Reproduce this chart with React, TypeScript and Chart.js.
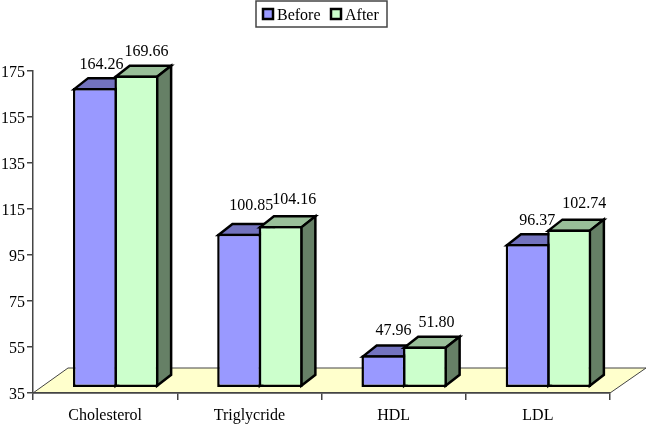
import React, { useEffect, useRef } from "react";
import { Chart, registerables } from "chart.js";

Chart.register(...registerables);

const categories = ["Cholesterol", "Triglycride", "HDL", "LDL"];
const beforeValues = [164.26, 100.85, 47.96, 96.37];
const afterValues = [169.66, 104.16, 51.8, 102.74];
const seriesNames = ["Before", "After"];

const FONT = '"Liberation Serif", serif';
const frontColors = ["#9999FF", "#CCFFCC"];
const topColors = ["#7373BF", "#99BF99"];
const sideColors = ["#4D4D80", "#668066"];

const DEPTH_X = 14;
const DEPTH_Y = 11;
const LIFT = 3.4; // value-units the bars float above the axis floor
const BAR_BASE = 34.2;
const SHIFT = 0.073; // category-units the bars are moved right
const EDGE = 2.5;

// label nudges relative to the bar top, per series then per category
const labelNudges = [
  [[6.7, -23], [12, -28], [10, -24.7], [9.7, -23]],
  [[10, -23.5], [13.7, -26.5], [11.5, -24], [15, -26]],
];

function poly(ctx: CanvasRenderingContext2D, pts: number[][], fill: string, stroke: string, lw: number) {
  ctx.beginPath();
  pts.forEach((p, i) => (i ? ctx.lineTo(p[0], p[1]) : ctx.moveTo(p[0], p[1])));
  ctx.closePath();
  ctx.fillStyle = fill;
  ctx.fill();
  ctx.lineWidth = lw;
  ctx.strokeStyle = stroke;
  ctx.lineJoin = "miter";
  ctx.stroke();
}

const floorPlugin = {
  id: "floor",
  beforeDraw(chart: any) {
    const { ctx, chartArea: a } = chart;
    ctx.save();
    poly(
      ctx,
      [
        [a.left, a.bottom],
        [a.right, a.bottom],
        [a.right + 36, a.bottom - 25],
        [a.left + 35, a.bottom - 25],
      ],
      "#FFFFCC",
      "#444444",
      1
    );
    ctx.restore();
  },
};

const depthPlugin = {
  id: "depth",
  beforeDatasetsDraw(chart: any) {
    const { ctx } = chart;
    ctx.save();
    chart.data.datasets.forEach((_: any, d: number) => {
      chart.getDatasetMeta(d).data.forEach((bar: any) => {
        const l = bar.x - bar.width / 2 + EDGE / 2;
        const r = bar.x + bar.width / 2 - EDGE / 2;
        const t = bar.y + EDGE / 2;
        const b = bar.base - EDGE / 2;
        poly(ctx, [[l, t], [l + DEPTH_X, t - DEPTH_Y], [r + DEPTH_X, t - DEPTH_Y], [r, t]], topColors[d], "#000", EDGE);
        poly(ctx, [[r, t], [r + DEPTH_X, t - DEPTH_Y], [r + DEPTH_X, b - DEPTH_Y], [r, b]], sideColors[d], "#000", EDGE);
      });
    });
    ctx.restore();
  },
};

const labelPlugin = {
  id: "valueLabels",
  afterDatasetsDraw(chart: any) {
    const { ctx } = chart;
    ctx.save();
    ctx.font = `16px ${FONT}`;
    ctx.fillStyle = "#000";
    ctx.textAlign = "center";
    ctx.textBaseline = "middle";
    chart.data.datasets.forEach((ds: any, d: number) => {
      chart.getDatasetMeta(d).data.forEach((bar: any, i: number) => {
        const [dx, dy] = labelNudges[d][i];
        ctx.fillText(ds.data[i].y.toFixed(2), bar.x + dx, bar.y + dy);
      });
    });
    ctx.restore();
  },
};

const legendPlugin = {
  id: "boxLegend",
  afterDraw(chart: any) {
    const { ctx } = chart;
    ctx.save();
    ctx.fillStyle = "#fff";
    ctx.strokeStyle = "#444444";
    ctx.lineWidth = 1.5;
    ctx.fillRect(256, 1, 131, 26);
    ctx.strokeRect(256, 1, 131, 26);
    ctx.font = `16px ${FONT}`;
    ctx.textAlign = "left";
    ctx.textBaseline = "middle";
    const swatchX = [263, 331];
    chart.data.datasets.forEach((ds: any, d: number) => {
      ctx.fillStyle = frontColors[d];
      ctx.strokeStyle = "#000";
      ctx.lineWidth = 2.5;
      ctx.fillRect(swatchX[d], 9, 10, 10);
      ctx.strokeRect(swatchX[d], 9, 10, 10);
      ctx.fillStyle = "#000";
      ctx.fillText(ds.label, swatchX[d] + 14, 15.5);
    });
    ctx.restore();
  },
};

export default function App() {
  const ref = useRef<HTMLCanvasElement>(null);
  useEffect(() => {
    const chart = new Chart(ref.current as HTMLCanvasElement, {
      type: "bar",
      data: {
        labels: categories,
        datasets: [beforeValues, afterValues].map((vals, d) => ({
          label: seriesNames[d],
          data: vals.map((y, x) => ({ x, y })),
          xAxisID: "x2",
          yAxisID: "y2",
          base: BAR_BASE,
          backgroundColor: frontColors[d],
          borderColor: "#000",
          borderWidth: EDGE,
          borderSkipped: false,
          categoryPercentage: 0.575,
          barPercentage: 1.06,
        })),
      } as any,
      options: {
        responsive: false,
        animation: false,
        devicePixelRatio: 1,
        layout: { padding: { top: 71, left: 0, right: 36, bottom: 0 } },
        plugins: { legend: { display: false }, tooltip: { enabled: false }, title: { display: false } },
        scales: {
          x: {
            type: "category",
            offset: true,
            afterFit: (s: any) => { s.height = 32; },
            border: { display: true, color: "#444444", width: 1.5 },
            grid: { display: true, offset: true, drawOnChartArea: false, drawTicks: true, tickLength: 7, color: "#444444", lineWidth: 1.5 },
            ticks: { color: "#000", font: { family: FONT, size: 16 }, padding: 6, maxRotation: 0, autoSkip: false },
          },
          y: {
            type: "linear",
            min: 35,
            max: 175,
            afterFit: (s: any) => { s.width = 33; },
            border: { display: true, color: "#444444", width: 1.5 },
            grid: { display: true, drawOnChartArea: false, drawTicks: true, tickLength: 6, color: "#444444", lineWidth: 1.5 },
            ticks: {
              stepSize: 20,
              color: "#000",
              font: { family: FONT, size: 16, lineHeight: 0.25 },
              padding: 2,
              callback: (v: any) => ["", String(v)],
            },
          },
          x2: {
            type: "linear",
            display: false,
            offset: false,
            min: -0.5 - SHIFT,
            max: 3.5 - SHIFT,
            grid: { offset: false },
            afterBuildTicks: (s: any) => { s.ticks = categories.map((_, value) => ({ value })); },
          },
          y2: {
            type: "linear",
            display: false,
            position: "left",
            min: 35 - LIFT,
            max: 175 - LIFT,
          },
        },
      } as any,
      plugins: [floorPlugin, depthPlugin, labelPlugin, legendPlugin],
    });
    return () => chart.destroy();
  }, []);
  return (
    <div style={{ position: "fixed", left: 0, top: 0, width: 646, height: 425, background: "#fff" }}>
      <canvas ref={ref} width={646} height={425} style={{ display: "block" }} />
    </div>
  );
}
